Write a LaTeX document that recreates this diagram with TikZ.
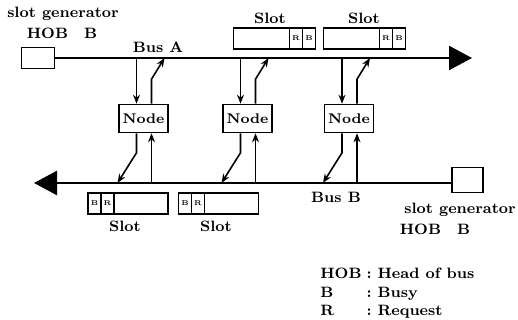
\documentclass[tikz,border=0pt]{standalone}
\usetikzlibrary{arrows.meta,positioning}

\tikzset{
  genbox/.style={draw, line width=0.8pt, inner sep=0pt},
  nodebox/.style={draw, line width=0.8pt, minimum width=24.5pt, minimum height=14pt,
    inner sep=0pt, font=\bfseries\fontsize{7}{8}\selectfont},
  slotbox/.style={draw, line width=0.6pt, minimum height=10.5pt, inner sep=0pt, outer sep=0pt},
  cell/.style={slotbox, minimum width=6.5pt, font=\bfseries\fontsize{3.5}{4}\selectfont},
  bus/.style={line width=1.2pt},
  link/.style={line width=0.8pt, ->},
}

\begin{document}
\begin{tikzpicture}[x=0.5pt, y=0.5pt, >={Stealth[length=4.5pt,width=3.5pt]},
  font=\bfseries\fontsize{7.5}{9.25}\selectfont]
  \useasboundingbox (0,0) rectangle (518,320);
  % slot generators and the two buses
  \node[genbox, minimum width=16.5pt, minimum height=10.5pt] (genA) at (38,262) {};
  \node[genbox, minimum width=15.5pt, minimum height=12.5pt] (genB) at (467.5,140) {};
  \coordinate (endA) at (472,262);
  \coordinate (endB) at (34,137);
  \draw[bus, -{Triangle[length=11.5pt,width=12pt]}] (genA) -- (endA);
  \draw[bus, -{Triangle[length=11.5pt,width=12pt]}] (genB.west |- endB) -- (endB);
  \node (busA) at (158,273) {Bus A};
  \node (busB) at (336,123) {Bus B};
  \node (genAl) at (63,306) {slot generator};
  \node (genAh) at (62,287) {HOB\hspace{8pt}B};
  \node (genBl) at (460,110) {slot generator};
  \node (genBh) at (435,91) {HOB\hspace{8pt}B};
  % access nodes
  \foreach \i/\x in {1/143.5, 2/247.5, 3/349} {
    \node[nodebox] (n\i) at (\x,201.5) {Node};
    \coordinate (ao\i) at (\x-7,262);
    \coordinate (ai\i) at (\x+21,262);
    \coordinate (bi\i) at (\x-26,137);
    \coordinate (bo\i) at (\x+8,137);
    \draw[link] (ao\i) -- (ao\i |- n\i.north);
    \draw[link] ([xshift=4pt]n\i.north) -- ++(0,24.5) -- (ai\i);
    \draw[link] ([xshift=-3.5pt]n\i.south) -- ++(0,-19.5) -- (bi\i);
    \draw[link] (bo\i) -- (bo\i |- n\i.south);
  }
  % slots on bus A
  \foreach \j/\x/\l in {1/261.5/270, 2/351.5/364} {
    \node[slotbox, minimum width=28pt] (sa\j) at (\x,281.5) {};
    \node[cell, right=0pt of sa\j] (sa\j r) {R};
    \node[cell, right=0pt of sa\j r] (sa\j b) {B};
    \node (lsa\j) at (\l,302) {Slot};
  }
  % slots on bus B
  \foreach \j/\x/\l in {1/94.5/125, 2/185/216} {
    \node[cell] (sb\j b) at (\x,116.5) {B};
    \node[cell, right=0pt of sb\j b] (sb\j r) {R};
    \node[slotbox, minimum width=27pt, right=0pt of sb\j r] (sb\j) {};
    \node (lsb\j) at (\l,94) {Slot};
  }
  % legend
  \node[anchor=base west, inner sep=0pt] (legend) at (320,41) {%
    \begin{tabular}[t]{@{}l@{\hspace{2.5pt}}l@{\hspace{3pt}}l@{}}
      HOB & : & Head of bus\\
      B & : & Busy\\
      R & : & Request
    \end{tabular}};
\end{tikzpicture}
\end{document}
